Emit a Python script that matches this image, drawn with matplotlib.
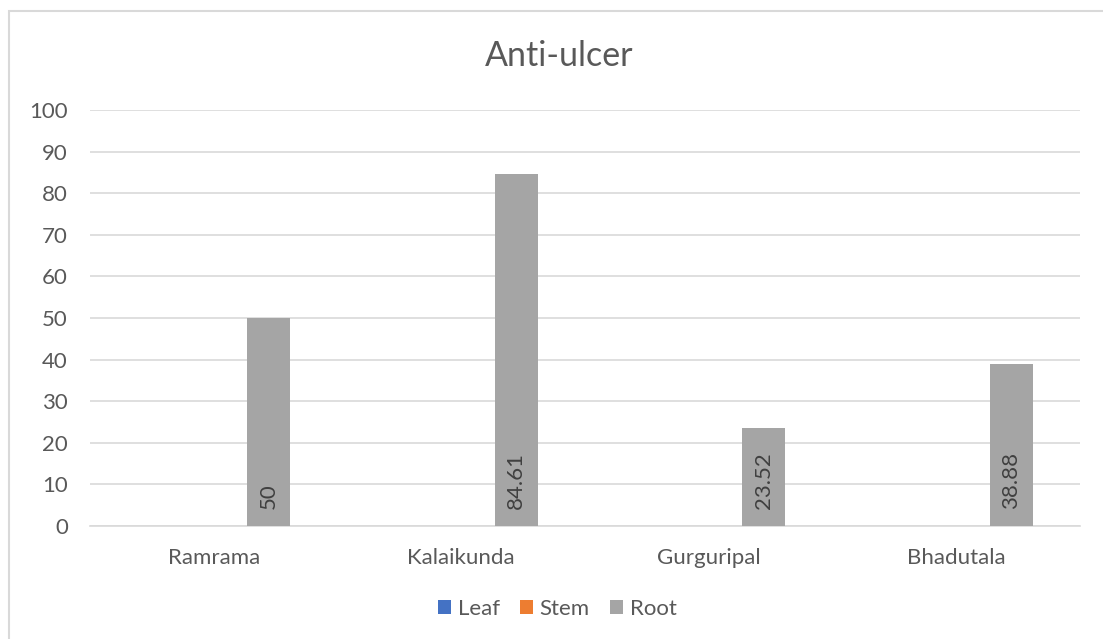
import numpy as np
import matplotlib.pyplot as plt
from matplotlib.patches import Rectangle

# data
sites = ['Ramrama', 'Kalaikunda', 'Gurguripal', 'Bhadutala']
leaf = [0, 0, 0, 0]
stem = [0, 0, 0, 0]
root = [50, 84.61, 23.52, 38.88]
root_labels = ['50', '84.61', '23.52', '38.88']
series = ['Leaf', 'Stem', 'Root']
colors = ['#4472C4', '#ED7D31', '#A5A5A5']

plt.rcParams['font.family'] = ['Lato', 'DejaVu Sans']
txt = '#595959'

fig = plt.figure(figsize=(11.03, 6.39), dpi=100)
ax = fig.add_axes([90/1103, 1-526/639, 990/1103, 416/639])

x = np.arange(len(sites))
w = 0.1725
step = 0.222
for i, (vals, name, c) in enumerate(zip([leaf, stem, root], series, colors)):
    bars = ax.bar(x + (i-1)*step, vals, w, color=c, label=name, zorder=3)
    if name == 'Root':
        for b, lab in zip(bars, root_labels):
            ax.text(b.get_x()+b.get_width()/2, 4, lab, rotation=90,
                    ha='center', va='bottom', fontsize=16, color='#404040', zorder=4)

ax.set_xlim(-0.5, 3.5)
ax.set_ylim(0, 100)
ax.set_yticks(range(0, 101, 10))
ax.set_xticks(x)
ax.set_xticklabels(sites)
ax.yaxis.grid(True, color='#D9D9D9', linewidth=1.2, zorder=0)
ax.tick_params(length=0, labelsize=16, colors=txt)
ax.tick_params(axis='y', pad=16)
ax.tick_params(axis='x', pad=16)
for s in ['top', 'right', 'left']:
    ax.spines[s].set_visible(False)
ax.spines['bottom'].set_color('#D9D9D9')
ax.spines['bottom'].set_linewidth(1.2)

fig.suptitle('Anti-ulcer', x=559/1103, y=1-56/639, va='center', fontsize=24.5, color=txt)
fig.legend(loc='center', bbox_to_anchor=(557/1103, 1-609/639), ncol=3, frameon=False,
           fontsize=16, labelcolor=txt, handlelength=0.6, handleheight=0.6,
           handletextpad=0.3, columnspacing=0.9)

# chart area border (top and left edges visible)
fig.patches.append(Rectangle((9/1103, -0.1), 1.2, 1.1-11/639, transform=fig.transFigure,
                             fill=False, edgecolor='#D9D9D9', linewidth=1.5))

fig.savefig('out.png', dpi=100)
